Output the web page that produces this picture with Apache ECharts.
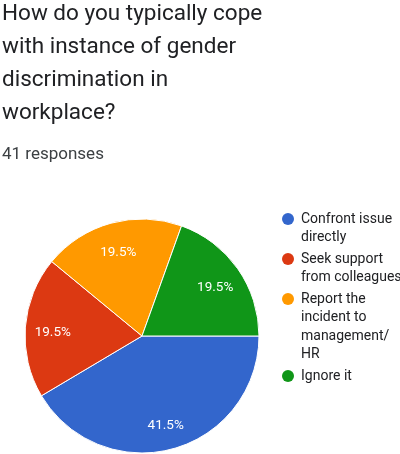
<!DOCTYPE html>
<html>
<head>
<meta charset="utf-8">
<style>
  html, body { margin: 0; padding: 0; background: #ffffff; }
  #chart { width: 400px; height: 454px; }
</style>
<script src="https://cdn.jsdelivr.net/npm/echarts@6/dist/echarts.min.js"></script>
</head>
<body>
<div id="chart"></div>
<script>
// Survey question and answer counts (41 responses in total)
const questionLines = ['How do you typically cope', 'with instance of gender', 'discrimination in', 'workplace?'];
const responseNote = '41 responses';
const categories = ['Confront issue directly', 'Seek support from colleagues', 'Report the incident to management/HR', 'Ignore it'];
const legendLines = [
  ['Confront issue', 'directly'],
  ['Seek support', 'from colleagues'],
  ['Report the', 'incident to', 'management/', 'HR'],
  ['Ignore it']
];
const counts = [17, 8, 8, 8];
const sliceColors = ['#3366cc', '#dc3912', '#ff9900', '#109618'];

const FONT = 'Roboto, "Noto Sans", sans-serif';
const pieCenter = [142, 336];
const pieRadius = 117;

const pieData = categories.map((name, i) => ({
  name: name,
  value: counts[i],
  itemStyle: { color: sliceColors[i] }
}));

// Legend: coloured dot aligned with the first line of each wrapped label
const legendGraphics = [];
const legendLineHeight = 18.5;
let legendY = 219;
legendLines.forEach((lines, i) => {
  legendGraphics.push({
    type: 'circle',
    shape: { cx: 288, cy: legendY, r: 6 },
    style: { fill: sliceColors[i] },
    silent: true
  });
  legendGraphics.push({
    type: 'text',
    x: 301,
    y: legendY - legendLineHeight / 2,
    style: {
      text: lines.join('\n'),
      font: '14px ' + FONT,
      fill: '#202124',
      lineHeight: legendLineHeight,
      verticalAlign: 'top'
    },
    silent: true
  });
  legendY += lines.length * legendLineHeight + 3;
});

const chart = echarts.init(document.getElementById('chart'));
chart.setOption({
  animation: false,
  backgroundColor: '#ffffff',
  title: [
    {
      text: questionLines.join('\n'),
      left: 2,
      top: -2,
      padding: 0,
      textStyle: { fontFamily: FONT, fontSize: 22.5, fontWeight: 'normal', color: '#202124', lineHeight: 33 }
    },
    {
      text: responseNote,
      left: 2,
      top: 146,
      padding: 0,
      textStyle: { fontFamily: FONT, fontSize: 17, fontWeight: 'normal', color: '#3c4043', lineHeight: 17 }
    }
  ],
  graphic: legendGraphics,
  series: [
    {
      // the slices themselves
      type: 'pie',
      center: pieCenter,
      radius: [0, pieRadius],
      startAngle: 0,
      clockwise: true,
      data: pieData,
      itemStyle: { borderColor: '#ffffff', borderWidth: 1 },
      label: { show: false },
      labelLine: { show: false },
      silent: true
    },
    {
      // percentage labels, placed on an invisible ring further out
      type: 'pie',
      center: pieCenter,
      radius: [56, pieRadius],
      startAngle: 0,
      clockwise: true,
      percentPrecision: 1,
      data: categories.map((name, i) => ({ name: name, value: counts[i] })),
      itemStyle: { color: 'rgba(0,0,0,0)', borderWidth: 0 },
      label: {
        show: true,
        position: 'inside',
        formatter: '{d}%',
        color: '#ffffff',
        fontFamily: FONT,
        fontSize: 13.5,
        offset: [0, 3]
      },
      labelLine: { show: false },
      silent: true
    }
  ]
});
</script>
</body>
</html>
